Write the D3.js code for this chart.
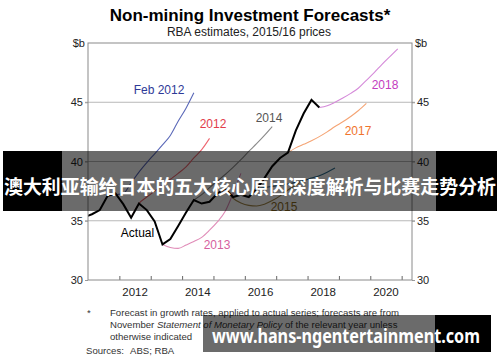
<!DOCTYPE html>
<html>
<head>
<meta charset="utf-8">
<script src="https://cdn.jsdelivr.net/npm/d3@7"></script>
<style>
body { margin: 0; background: #fff; }
text { font-family: "Liberation Sans", Arial, sans-serif; }
</style>
</head>
<body>
<div id="chart"></div>
<script>
// quarterly values ($b), one point per quarter from each series' start
var actualStart = 2010.875;
var actual = [35.3, 35.55, 35.9, 37.1, 37.3, 36.4, 35.25, 36.45, 35.9, 34.95, 33.0,
              33.45, 34.55, 35.7, 36.75, 36.45, 36.6, 37.3, 37.7, 37.0, 37.2, 37.0,
              37.7, 38.6, 39.6, 40.3, 40.75, 42.6, 44.05, 45.2, 44.55];

var seriesNames = ["Feb 2012", "2012", "2013", "2014", "2015", "2016", "2017", "2018"];
var seriesStart = [2011.625, 2012.375, 2013.375, 2014.375, 2015.375, 2016.375, 2017.375, 2018.375];
var feb2012 = [37.1, 37.2, 37.3, 38.2, 39.1, 39.9, 40.65, 41.4, 42.2, 43.4, 44.5, 45.8];
var f2012 = [35.25, 36.45, 37.0, 37.5, 38.0, 38.5, 39.0, 39.55, 40.3, 41.0, 41.95];
var f2013 = [33.0, 32.75, 32.67, 32.95, 33.25, 33.6, 34.2, 34.9, 35.8, 37.3, 39.0];
var f2014 = [36.75, 37.2, 37.8, 38.35, 38.9, 39.5, 40.15, 40.85, 41.5, 42.2, 42.95];
var f2015 = [37.7, 36.9, 36.5, 36.3, 36.25, 36.4, 36.7, 37.1, 37.6, 38.0, 38.4];
var f2016 = [37.7, 37.8, 37.9, 38.0, 38.1, 38.25, 38.4, 38.6, 38.8, 39.1, 39.45];
var f2017 = [40.75, 41.15, 41.45, 41.75, 42.1, 42.5, 42.95, 43.35, 43.8, 44.3, 44.9];
var f2018 = [44.55, 44.7, 45.0, 45.35, 45.75, 46.2, 46.85, 47.5, 48.2, 48.85, 49.5];
var seriesValues = [feb2012, f2012, f2013, f2014, f2015, f2016, f2017, f2018];

var yTicks = [30, 35, 40, 45];
var xLabels = [2012, 2014, 2016, 2018, 2020];

// styling and label placement for each forecast line (2016 label is hidden under the banner)
var lineColor = ["#5a68b8", "#ee6670", "#e08cb8", "#8a8a8a", "#a3884a", "#2f6f8f", "#f5a474", "#d58ad9"];
var labelColor = ["#2e3a97", "#e23d4a", "#d65f9e", "#555555", "#8a6a1c", "#2f6f8f", "#f0742c", "#c33cc0"];
var labelPos = [[159, 94], [213, 128], [217, 249], [269, 122], [284, 211], null, [358, 135], [385, 89]];

var W = 500, H = 362;
var plot = {left: 88, right: 412, top: 43, bottom: 280};

var svg = d3.select("#chart").append("svg")
    .attr("width", W)
    .attr("height", H)
    .style("display", "block");

svg.append("rect").attr("width", W).attr("height", H).attr("fill", "#fff");

var x = d3.scaleLinear().domain([2011, 2021.33]).range([plot.left, plot.right]);
var y = d3.scaleLinear().domain([30, 50]).range([plot.bottom, plot.top]);

// titles
svg.append("text")
    .attr("x", 250).attr("y", 21)
    .attr("text-anchor", "middle")
    .style("font-size", "17px").style("font-weight", "bold")
    .text("Non-mining Investment Forecasts*");
svg.append("text")
    .attr("x", 249).attr("y", 36)
    .attr("text-anchor", "middle")
    .style("font-size", "12px").attr("fill", "#222")
    .text("RBA estimates, 2015/16 prices");

// gridlines (with small outer ticks both sides)
svg.append("g").selectAll("line")
  .data(yTicks.slice(1))
  .enter().append("line")
    .attr("x1", plot.left - 3).attr("x2", plot.right + 3)
    .attr("y1", function(d) { return y(d); })
    .attr("y2", function(d) { return y(d); })
    .attr("stroke", "#b8b8b8");

// left / right axes
var leftAxis = svg.append("g")
    .attr("transform", "translate(" + plot.left + ",0)")
    .call(d3.axisLeft(y).tickValues(yTicks).tickSize(3).tickPadding(2));
var rightAxis = svg.append("g")
    .attr("transform", "translate(" + plot.right + ",0)")
    .call(d3.axisRight(y).tickValues(yTicks).tickSize(3).tickPadding(2));
[leftAxis, rightAxis].forEach(function(a) {
  a.select(".domain").remove();
  a.selectAll("line").attr("stroke", "#999");
  a.selectAll("text").style("font-size", "11px").attr("fill", "#222")
    .style("font-family", "'Liberation Sans', Arial, sans-serif");
});
svg.append("text").attr("x", 85).attr("y", y(50) + 4).attr("text-anchor", "end")
    .style("font-size", "11px").attr("fill", "#222").text("$b");
svg.append("text").attr("x", 415).attr("y", y(50) + 4)
    .style("font-size", "11px").attr("fill", "#222").text("$b");

// bottom ticks at year boundaries, labels centred on the year
var xAxis = svg.append("g")
    .attr("transform", "translate(0," + plot.bottom + ")")
    .call(d3.axisBottom(x).tickValues(d3.range(2012, 2022)).tickSize(-4).tickFormat(""));
xAxis.select(".domain").remove();
xAxis.selectAll("line").attr("stroke", "#666");

svg.append("g").selectAll("text")
  .data(xLabels)
  .enter().append("text")
    .attr("x", function(d) { return x(d + 0.5); })
    .attr("y", 296)
    .attr("text-anchor", "middle")
    .style("font-size", "11.5px").attr("fill", "#222")
    .text(function(d) { return d; });

// lines
svg.append("clipPath").attr("id", "clip")
  .append("rect")
    .attr("x", plot.left).attr("y", plot.top)
    .attr("width", plot.right - plot.left).attr("height", plot.bottom - plot.top);

var g = svg.append("g").attr("clip-path", "url(#clip)");

function pts(start, vals) {
  return vals.map(function(v, i) { return [start + i * 0.25, v]; });
}

var smooth = d3.line()
    .x(function(d) { return x(d[0]); })
    .y(function(d) { return y(d[1]); })
    .curve(d3.curveMonotoneX);

seriesValues.forEach(function(vals, i) {
  g.append("path")
    .datum(pts(seriesStart[i], vals))
    .attr("fill", "none")
    .attr("stroke", lineColor[i])
    .attr("stroke-width", 1.1)
    .attr("d", smooth);
});

g.append("path")
    .datum(pts(actualStart, actual))
    .attr("fill", "none")
    .attr("stroke", "#000")
    .attr("stroke-width", 2)
    .attr("stroke-linejoin", "miter")
    .attr("d", d3.line()
      .x(function(d) { return x(d[0]); })
      .y(function(d) { return y(d[1]); }));

// line labels
seriesNames.forEach(function(name, i) {
  if (!labelPos[i]) return;
  svg.append("text")
    .attr("x", labelPos[i][0]).attr("y", labelPos[i][1])
    .attr("text-anchor", "middle")
    .style("font-size", "12px")
    .attr("fill", labelColor[i])
    .text(name);
});
svg.append("text")
    .attr("x", 137.5).attr("y", 237)
    .attr("text-anchor", "middle")
    .style("font-size", "12px")
    .text("Actual");

// frame
svg.append("rect")
    .attr("x", plot.left).attr("y", plot.top)
    .attr("width", plot.right - plot.left).attr("height", plot.bottom - plot.top)
    .attr("fill", "none").attr("stroke", "#8a8a8a");

// footnote
var foot = svg.append("g").style("font-size", "9.6px").attr("fill", "#333");
foot.append("text").attr("x", 87).attr("y", 316).text("*");
foot.append("text").attr("x", 110).attr("y", 316)
    .text("Forecast in growth rates, applied to actual series; forecasts are from");
var l2 = foot.append("text").attr("x", 110).attr("y", 328);
l2.append("tspan").text("November ");
l2.append("tspan").style("font-style", "italic").text("Statement of Monetary Policy");
l2.append("tspan").text(" of the relevant year unless");
foot.append("text").attr("x", 110).attr("y", 340).text("otherwise indicated");
foot.append("text").attr("x", 86).attr("y", 354).text("Sources:");
foot.append("text").attr("x", 130).attr("y", 354).text("ABS; RBA");

// watermark banners over the picture
svg.append("rect").attr("x", 3).attr("y", 151).attr("width", 59).attr("height", 60).attr("fill", "#000");
svg.append("rect").attr("x", 62).attr("y", 151).attr("width", 374).attr("height", 60).attr("fill", "rgba(0,0,0,0.58)");
svg.append("rect").attr("x", 436).attr("y", 151).attr("width", 61).attr("height", 60).attr("fill", "#000");
svg.append("text")
    .attr("x", 250).attr("y", 194)
    .attr("text-anchor", "middle")
    .attr("textLength", 492).attr("lengthAdjust", "spacingAndGlyphs")
    .style("font-family", "'Noto Sans CJK SC', sans-serif")
    .style("font-size", "19px").style("font-weight", "bold")
    .attr("fill", "#fff")
    .text("澳大利亚输给日本的五大核心原因深度解析与比赛走势分析");

svg.append("rect").attr("x", 203).attr("y", 315).attr("width", 232).attr("height", 37).attr("fill", "rgba(0,0,0,0.58)");
svg.append("rect").attr("x", 435).attr("y", 315).attr("width", 56).attr("height", 37).attr("fill", "#000");
svg.append("text")
    .attr("x", 212).attr("y", 343)
    .attr("textLength", 268).attr("lengthAdjust", "spacingAndGlyphs")
    .style("font-family", "'Noto Sans', sans-serif")
    .style("font-size", "19px").style("font-weight", "bold")
    .attr("fill", "#fff")
    .text("www.hans-ngentertainment.com");
</script>
</body>
</html>
